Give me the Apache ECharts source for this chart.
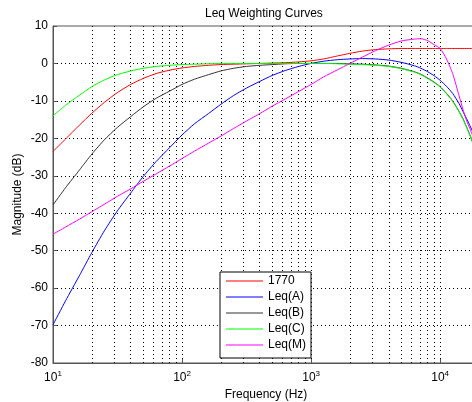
<!DOCTYPE html>
<html>
<head>
<meta charset="utf-8">
<script src="https://cdn.jsdelivr.net/npm/echarts@6/dist/echarts.min.js"></script>
<style>
html, body { margin: 0; padding: 0; background: #fff; }
#chart { width: 472px; height: 402px; }
</style>
</head>
<body>
<div id="chart"></div>
<script>
"use strict";

// frequencies (Hz) the curves are sampled at
var freqs = [10, 12.5, 16, 20, 25, 31.5, 40, 50, 63, 80,
	100, 125, 160, 200, 250, 315, 400, 500, 630, 800,
	1000, 1250, 1600, 2000, 2500, 3150, 4000, 5000, 6300, 7100,
	8000, 9000, 10000, 11200, 12500, 14000, 15000, 16000, 17000, 18000, 20000];

// magnitudes (dB)
var k1770 = [-23.5, -20.2, -16.5, -13.3, -10.4, -7.8, -5.6, -4.0, -2.7, -1.8,
	-1.2, -0.8, -0.5, -0.3, -0.2, -0.1, 0.0, 0.1, 0.2, 0.4,
	0.7, 1.2, 2.0, 2.7, 3.3, 3.7, 3.9, 4.0, 4.0, 4.0,
	4.0, 4.0, 4.0, 4.0, 4.0, 4.0, 4.0, 4.0, 4.0, 4.0, 4.0];
var leqA = [-69.8, -63.4, -56.7, -50.5, -44.7, -39.4, -34.6, -30.2, -26.2, -22.5,
	-19.1, -16.1, -13.4, -10.9, -8.6, -6.6, -4.8, -3.2, -1.9, -0.8,
	0.0, 0.6, 1.0, 1.2, 1.3, 1.2, 0.9, 0.3, -0.6, -1.3,
	-2.2, -3.3, -4.5, -6.1, -8.0, -10.7, -12.8, -14.7, -16.6, -18.5, -23.0];
var leqB = [-37.8, -33.2, -28.5, -24.2, -20.4, -17.1, -14.2, -11.6, -9.3, -7.4,
	-5.6, -4.2, -3.0, -2.0, -1.3, -0.8, -0.5, -0.3, -0.1, 0.0,
	0.0, 0.0, 0.0, -0.1, -0.2, -0.4, -0.7, -1.3, -2.2, -2.9,
	-3.9, -5.0, -6.2, -8.0, -10.0, -12.8, -14.7, -16.9, -19.1, -21.4, -27.0];
var leqC = [-14.0, -11.2, -8.5, -6.2, -4.4, -3.0, -2.0, -1.3, -0.8, -0.5,
	-0.3, -0.2, -0.1, 0.0, 0.0, 0.0, 0.0, 0.0, 0.0, 0.0,
	0.0, 0.0, -0.1, -0.2, -0.3, -0.5, -0.8, -1.4, -2.3, -3.0,
	-4.0, -5.1, -6.3, -8.1, -10.1, -12.9, -14.8, -17.0, -19.2, -21.5, -27.0];
var leqM = [-45.6, -43.7, -41.6, -39.6, -37.6, -35.5, -33.5, -31.5, -29.5, -27.4,
	-25.4, -23.4, -21.3, -19.4, -17.4, -15.4, -13.4, -11.4, -9.5, -7.5,
	-5.6, -3.6, -1.7, 0.0, 1.7, 3.4, 4.9, 6.0, 6.5, 6.6,
	6.1, 5.0, 4.0, 1.2, -2.7, -8.6, -12.2, -15.2, -17.4, -19.6, -25.0];

var names = ['1770', 'Leq(A)', 'Leq(B)', 'Leq(C)', 'Leq(M)'];
var colors = ['#ff0000', '#0000ff', '#333333', '#00ff00', '#ff00ff'];
var curves = [k1770, leqA, leqB, leqC, leqM];

// log-axis minor grid positions
var minorFreqs = [20, 30, 40, 50, 60, 70, 80, 90,
	200, 300, 400, 500, 600, 700, 800, 900,
	2000, 3000, 4000, 5000, 6000, 7000, 8000, 9000];

var myChart = echarts.init(document.getElementById('chart'));

function pairs(vals) {
	return freqs.map(function (f, i) {
		return [f, vals[i]];
	});
}

var series = [];
for (var i = 0; i < curves.length; i++) {
	series.push({
		name: names[i],
		type: 'line',
		data: pairs(curves[i]),
		symbol: 'none',
		smooth: 0.2,
		lineStyle: { color: colors[i], width: 1 },
		itemStyle: { color: colors[i] }
	});
}
// dotted minor grid
series[0].markLine = {
	silent: true,
	symbol: 'none',
	label: { show: false },
	lineStyle: { color: '#000', width: 1, type: [1, 3] },
	z: 1,
	data: minorFreqs.map(function (f) { return { xAxis: f }; })
};

var option = {
	animation: false,
	textStyle: { fontFamily: 'Liberation Sans, Arial, sans-serif', color: '#000' },
	title: {
		text: 'Leq Weighting Curves',
		left: 205,
		top: 8,
		padding: 0,
		textStyle: { fontSize: 12, fontWeight: 'normal', color: '#000' }
	},
	legend: {
		data: names,
		orient: 'vertical',
		left: 220,
		top: 272,
		padding: [3, 5, 7, 6],
		icon: 'path://M0,0H37V1H0Z',
		itemWidth: 37,
		itemHeight: 14,
		itemGap: 4,
		selectedMode: false,
		borderColor: '#000',
		borderWidth: 1,
		backgroundColor: '#fff',
		textStyle: { fontSize: 12, color: '#000' }
	},
	grid: {
		left: 53,
		right: -7,
		top: 26,
		bottom: 39,
		outerBoundsMode: 'none',
		containLabel: false,
		show: true,
		borderColor: '#555',
		borderWidth: 1
	},
	xAxis: {
		type: 'log',
		logBase: 10,
		min: 10,
		max: 20000,
		name: 'Frequency (Hz)',
		nameLocation: 'middle',
		nameGap: 26,
		nameMoveOverlap: false,
		nameTextStyle: { fontSize: 12, color: '#000' },
		axisLine: { show: true, onZero: false, lineStyle: { color: '#555' } },
		axisTick: { inside: true, length: 4, lineStyle: { color: '#555' } },
		axisLabel: {
			margin: 7,
			color: '#000',
			formatter: function (v) {
				var e = Math.log10(v);
				var r = Math.round(e);
				if (Math.abs(e - r) > 0.01) return '';
				return '{b|10}{s|' + r + '}';
			},
			rich: {
				b: { fontSize: 12, color: '#000' },
				s: { fontSize: 8, color: '#000', padding: [0, 0, 7, 0] }
			}
		},
		splitLine: { show: true, showMinLine: false, showMaxLine: false, lineStyle: { color: '#000', type: [1, 3] } }
	},
	yAxis: {
		type: 'value',
		min: -80,
		max: 10,
		interval: 10,
		name: 'Magnitude (dB)',
		nameLocation: 'middle',
		nameGap: 29,
		nameMoveOverlap: false,
		nameTextStyle: { fontSize: 12, color: '#000' },
		axisLine: { show: true, onZero: false, lineStyle: { color: '#555' } },
		axisTick: { inside: true, length: 4, lineStyle: { color: '#555' } },
		axisLabel: { fontSize: 12, color: '#000', margin: 5 },
		splitLine: { show: true, showMinLine: false, showMaxLine: false, lineStyle: { color: '#000', type: [1, 3] } }
	},
	series: series
};

myChart.setOption(option);
</script>
</body>
</html>
